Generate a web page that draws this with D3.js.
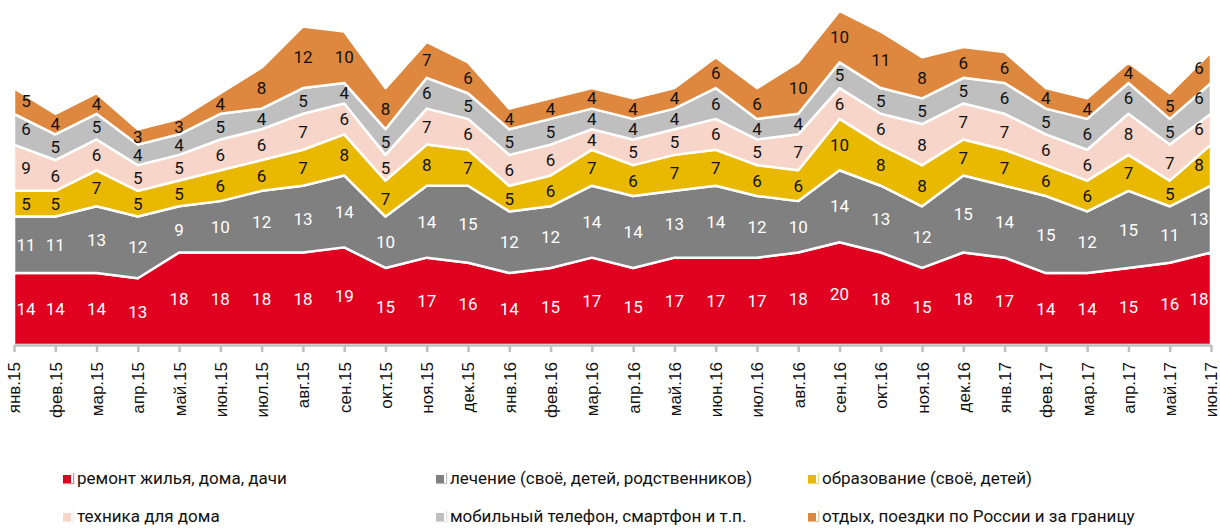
<!DOCTYPE html>
<html>
<head>
<meta charset="utf-8">
<script src="https://cdn.jsdelivr.net/npm/d3@7"></script>
<style>
  body { margin: 0; background: #fff; }
  svg { display: block; font-family: "Roboto", "Noto Sans", sans-serif; }
</style>
</head>
<body>
<svg id="chart" width="1220" height="532"></svg>
<script>
const months = ['янв.15', 'фев.15', 'мар.15', 'апр.15', 'май.15', 'июн.15', 'июл.15', 'авг.15', 'сен.15', 'окт.15',
  'ноя.15', 'дек.15', 'янв.16', 'фев.16', 'мар.16', 'апр.16', 'май.16', 'июн.16', 'июл.16', 'авг.16',
  'сен.16', 'окт.16', 'ноя.16', 'дек.16', 'янв.17', 'фев.17', 'мар.17', 'апр.17', 'май.17', 'июн.17']

const repair = [14, 14, 14, 13, 18, 18, 18, 18, 19, 15, 17, 16, 14, 15, 17, 15, 17, 17, 17, 18, 20, 18, 15, 18, 17, 14, 14, 15, 16, 18]
const treatment = [11, 11, 13, 12, 9, 10, 12, 13, 14, 10, 14, 15, 12, 12, 14, 14, 13, 14, 12, 10, 14, 13, 12, 15, 14, 15, 12, 15, 11, 13]
const education = [5, 5, 7, 5, 5, 6, 6, 7, 8, 7, 8, 7, 5, 6, 7, 6, 7, 7, 6, 6, 10, 8, 8, 7, 7, 6, 6, 7, 5, 8]
const appliances = [9, 6, 6, 5, 5, 6, 6, 7, 6, 5, 7, 6, 6, 6, 4, 5, 5, 6, 5, 7, 6, 6, 8, 7, 7, 6, 6, 8, 7, 6]
const phones = [6, 5, 5, 4, 4, 5, 4, 5, 4, 5, 6, 5, 5, 5, 4, 4, 4, 6, 4, 4, 5, 5, 5, 5, 6, 5, 6, 6, 5, 6]
const travel = [5, 4, 4, 3, 3, 4, 8, 12, 10, 8, 7, 6, 4, 4, 4, 4, 4, 6, 6, 10, 10, 11, 8, 6, 6, 4, 4, 4, 5, 6]

const seriesNames = ['ремонт жилья, дома, дачи', 'лечение (своё, детей, родственников)', 'образование (своё, детей)',
  'техника для дома', 'мобильный телефон, смартфон и т.п.', 'отдых, поездки по России и за границу']
const seriesValues = [repair, treatment, education, appliances, phones, travel]
const colors = ['#e00020', '#808080', '#e9b800', '#f7d6c9', '#bfbfbf', '#de873e']
const textColors = ['#fff', '#fff', '#111', '#111', '#111', '#111']

const AXIS_Y = 345
const svg = d3.select('#chart')

const x = d3.scalePoint()
  .domain(months)
  .range([14, 1211])
const y = d3.scaleLinear()
  .domain([0, 65])
  .range([AXIS_Y, 11])

const rows = months.map((m, i) => {
  const row = { month: m }
  seriesValues.forEach((vals, k) => { row['s' + k] = vals[i] })
  return row
})
const keys = seriesValues.map((v, k) => 's' + k)
const stacked = d3.stack().keys(keys)(rows)

const area = d3.area()
  .x(d => x(d.data.month))
  .y0(d => y(d[0]))
  .y1(d => y(d[1]))

svg.append('g')
  .selectAll('path')
  .data(stacked)
  .join('path')
  .attr('fill', (d, i) => colors[i])
  .attr('stroke', '#fff')
  .attr('stroke-width', 2.5)
  .attr('stroke-linejoin', 'round')
  .attr('d', area)

// value labels in the middle of each band
const labels = svg.append('g')
  .attr('font-size', 17)
  .attr('text-anchor', 'middle')
stacked.forEach((layer, i) => {
  labels.append('g')
    .attr('fill', textColors[i])
    .selectAll('text')
    .data(layer)
    .join('text')
    .attr('x', d => Math.max(26, Math.min(1199, x(d.data.month))))
    .attr('y', d => y((d[0] + d[1]) / 2))
    .attr('dy', '0.36em')
    .text(d => d.data['s' + i])
})

// x axis
const axis = svg.append('g')
  .attr('transform', `translate(0,${AXIS_Y})`)
  .call(d3.axisBottom(x).tickSize(7).tickSizeOuter(0).tickPadding(10))
axis.select('.domain').attr('stroke', '#bfbfbf').attr('stroke-width', 2.5)
axis.selectAll('.tick line').attr('stroke', '#bfbfbf').attr('stroke-width', 2.5)
axis.selectAll('.tick text')
  .attr('font-family', null)
  .attr('font-size', 17)
  .attr('fill', '#111')
  .attr('text-anchor', 'end')
  .attr('transform', 'rotate(-90)')
  .attr('x', -17)
  .attr('y', 0)
  .attr('dy', '0.35em')

// legend
const legendX = [63, 436, 808]
const legendY = [483, 521]
const legend = svg.append('g')
seriesNames.forEach((name, i) => {
  const lx = legendX[i % 3]
  const ly = legendY[Math.floor(i / 3)]
  const g = legend.append('g').attr('transform', `translate(${lx},${ly})`)
  g.append('rect')
    .attr('x', 0).attr('y', -8)
    .attr('width', 8).attr('height', 8)
    .attr('fill', colors[i])
  g.append('rect')
    .attr('x', 0).attr('y', 0)
    .attr('width', 10).attr('height', 1.2)
    .attr('fill', colors[i]).attr('opacity', 0.5)
  g.append('rect')
    .attr('x', 10).attr('y', -10)
    .attr('width', 1.2).attr('height', 11)
    .attr('fill', colors[i]).attr('opacity', 0.5)
  g.append('text')
    .attr('x', 14)
    .attr('y', 0)
    .attr('dy', '0.05em')
    .attr('font-size', 17)
    .attr('fill', '#111')
    .text(name)
})
</script>
</body>
</html>
